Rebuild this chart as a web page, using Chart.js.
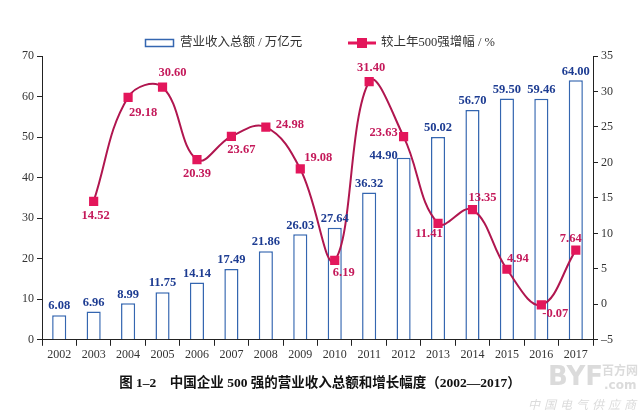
<!DOCTYPE html>
<html><head><meta charset="utf-8">
<script src="https://cdn.jsdelivr.net/npm/chart.js@4"></script>
<style>html,body{margin:0;padding:0;background:#fff;overflow:hidden}canvas{display:block}</style>
</head><body><canvas id="c" width="640" height="419"></canvas>
<script>
// ---- data ----
const years = ['2002','2003','2004','2005','2006','2007','2008','2009','2010','2011','2012','2013','2014','2015','2016','2017'];
const revenue = [6.08, 6.96, 8.99, 11.75, 14.14, 17.49, 21.86, 26.03, 27.64, 36.32, 44.90, 50.02, 56.70, 59.50, 59.46, 64.00];
const growth = [null, 14.52, 29.18, 30.60, 20.39, 23.67, 24.98, 19.08, 6.19, 31.40, 23.63, 11.41, 13.35, 4.94, -0.07, 7.64];
const revenueLabel = '营业收入总额 / 万亿元';
const growthLabel = '较上年500强增幅 / %';
const caption = '图 1–2　中国企业 500 强的营业收入总额和增长幅度（2002—2017）';

// ---- label placement (style) ----
const growthLabelOffsets = [[0,0],[2,14],[15,15],[10,-14],[0,14],[10,13],[24,-2],[18,-11],[9,12],[2,-14],[-20,-4],[-9,10],[10,-12],[11,-11],[14,9],[-5,-11]];
const revenueLabelOffsets = years.map((y,i)=> i===10 ? [-20,-2] : [0,-9]);

const SERIF = '"Liberation Serif", "Noto Sans CJK SC", serif';
const BAR_BORDER = '#3466b0';
const BAR_TEXT = '#1d3c92';
const LINE_COLOR = '#b0164f';
const MARK_COLOR = '#e3165b';
const LINE_TEXT = '#c4195a';

const labelPlugin = {
  id: 'valueLabels',
  afterDatasetsDraw(chart) {
    const ctx = chart.ctx;
    ctx.save();
    ctx.textAlign = 'center';
    ctx.textBaseline = 'middle';
    ctx.font = 'bold 12.5px ' + SERIF;
    const barMeta = chart.getDatasetMeta(0);
    barMeta.data.forEach((el, i) => {
      const o = revenueLabelOffsets[i];
      ctx.fillStyle = BAR_TEXT;
      ctx.fillText(revenue[i].toFixed(2), el.x + o[0], el.y + o[1]);
    });
    const lineMeta = chart.getDatasetMeta(1);
    lineMeta.data.forEach((el, i) => {
      if (growth[i] === null) return;
      const o = growthLabelOffsets[i];
      ctx.fillStyle = LINE_TEXT;
      ctx.fillText(growth[i].toFixed(2), el.x + o[0], el.y + o[1]);
    });
    ctx.restore();
  }
};

const legendPlugin = {
  id: 'customLegend',
  afterDraw(chart) {
    const ctx = chart.ctx;
    ctx.save();
    ctx.font = '12.5px ' + SERIF;
    ctx.textBaseline = 'middle';
    ctx.textAlign = 'left';
    const y = 43;
    // bar item
    ctx.strokeStyle = BAR_BORDER; ctx.lineWidth = 1.5;
    ctx.strokeRect(145.5, 39.5, 28, 7);
    ctx.fillStyle = '#333';
    ctx.fillText(chart.data.datasets[0].label, 180, y);
    // line item
    ctx.strokeStyle = MARK_COLOR; ctx.lineWidth = 3;
    ctx.beginPath(); ctx.moveTo(348, y); ctx.lineTo(376, y); ctx.stroke();
    ctx.fillStyle = MARK_COLOR;
    ctx.fillRect(357, y - 5, 10, 10);
    ctx.fillStyle = '#333';
    ctx.fillText(chart.data.datasets[1].label, 381, y);
    // faint watermark
    ctx.fillStyle = 'rgba(190,190,190,0.55)';
    ctx.font = 'bold 26px "DejaVu Sans", sans-serif';
    ctx.fillText('BYF', 548, 378);
    ctx.font = 'bold 12px "Noto Sans CJK SC", sans-serif';
    ctx.fillText('百方网', 602, 370);
    ctx.font = 'bold 12px "DejaVu Sans", sans-serif';
    ctx.fillText('.com', 604, 386);
    ctx.font = 'italic 12px "Noto Sans CJK SC", sans-serif';
    const wm = '中国电气供应商';
    for (let k = 0; k < wm.length; k++) ctx.fillText(wm[k], 528 + k * 16, 404);
    ctx.restore();
  }
};

new Chart(document.getElementById('c'), {
  data: {
    labels: years,
    datasets: [
      {
        type: 'bar', label: revenueLabel, data: revenue, yAxisID: 'y',
        backgroundColor: '#ffffff', borderColor: BAR_BORDER, borderWidth: 1.5,
        categoryPercentage: 1, barPercentage: 0.41, order: 2
      },
      {
        type: 'line', label: growthLabel, data: growth, yAxisID: 'y1',
        borderColor: LINE_COLOR, borderWidth: 2, tension: 0.4,
        pointStyle: 'rect', pointRadius: 6.5, pointBackgroundColor: MARK_COLOR,
        pointBorderColor: MARK_COLOR, pointBorderWidth: 0, order: 1, spanGaps: false
      }
    ]
  },
  options: {
    responsive: false, animation: false,
    layout: { padding: { top: 56, left: 0, right: 0, bottom: 27 } },
    plugins: {
      legend: { display: false }, tooltip: { enabled: false },
      title: {
        display: true, position: 'bottom', text: caption, color: '#111',
        font: { family: SERIF, size: 13.5, weight: 'bold' }, padding: { top: 12, bottom: 0 }
      }
    },
    scales: {
      x: {
        offset: true,
        grid: { display: true, drawOnChartArea: false, drawTicks: true, tickLength: 6, color: '#222', offset: true },
        border: { display: true, color: '#222', width: 1 },
        ticks: { color: '#333', font: { family: SERIF, size: 12 }, padding: 2, maxRotation: 0, autoSkip: false },
        afterFit(s) { s.height = 24; }
      },
      y: {
        position: 'left', min: 0, max: 70,
        grid: { drawOnChartArea: false, drawTicks: true, tickLength: 5, color: '#222' },
        border: { display: true, color: '#222', width: 1 },
        ticks: { stepSize: 10, color: '#333', font: { family: SERIF, size: 12 }, padding: 3 },
        afterFit(s) { s.width = 42; }
      },
      y1: {
        position: 'right', min: -5, max: 35,
        grid: { drawOnChartArea: false, drawTicks: true, tickLength: 5, color: '#222' },
        border: { display: true, color: '#222', width: 1 },
        ticks: { stepSize: 5, color: '#333', font: { family: SERIF, size: 12 }, padding: 3,
          callback: v => String(v).replace('-', '–') },
        afterFit(s) { s.width = 47; }
      }
    }
  },
  plugins: [labelPlugin, legendPlugin]
});
</script>
</body></html>
